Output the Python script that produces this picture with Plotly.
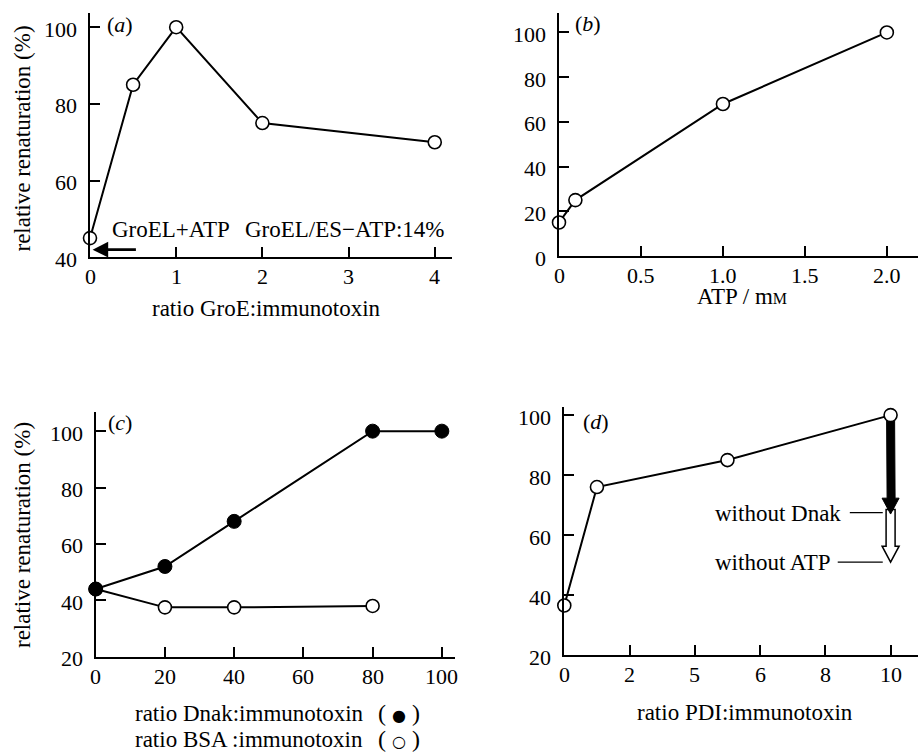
import plotly.graph_objects as go

# ---------------- data ----------------
# (a) GroE
a_x = [0, 0.5, 1, 2, 4]
a_y = [45, 85, 100, 75, 70]
a_arrow_y = 42
# (b) ATP
b_x = [0, 0.1, 1.0, 2.0]
b_y = [15, 25, 68, 100]
# (c) Dnak (filled) and BSA (open)
c_dnak_x = [0, 20, 40, 80, 100]
c_dnak_y = [44, 52, 68, 100, 100]
c_bsa_x = [0, 20, 40, 80]
c_bsa_y = [44, 37.5, 37.5, 38]
# (d) PDI
d_x = [0, 1, 5, 10]
d_y = [36.5, 76, 85, 100]
d_arrow_x = 10
d_without_dnak = 67
d_without_atp = 51

a_ticks = [0, 1, 2, 3, 4]
a_ticktext = ["0", "1", "2", "3", "4"]
a_yticks = [40, 60, 80, 100]
b_ticks = [0, 0.5, 1.0, 1.5, 2.0]
b_ticktext = ["0", "0.5", "1.0", "1.5", "2.0"]
b_yticks = [0, 20, 40, 60, 80, 100]
c_ticks = [0, 20, 40, 60, 80, 100]
c_ticktext = ["0", "20", "40", "60", "80", "100"]
c_yticks = [20, 40, 60, 80, 100]
d_ticks = [0, 2, 4, 6, 8, 10]
d_ticktext = ["0", "2", "5", "6", "8", "10"]
d_yticks = [20, 40, 60, 80, 100]

W, H = 919, 753
FONT = "Liberation Serif"


def px(v):
    return v / W


def py(v):
    return 1 - v / H


def axis(dom, rng, tickvals, anchor=None):
    return dict(domain=dom, range=rng, showline=True, linecolor="black", linewidth=2,
                ticks="inside", ticklen=10, tickwidth=1.5, tickcolor="black",
                showgrid=False, zeroline=False, tickvals=tickvals, automargin=False,
                showticklabels=False, anchor=anchor, fixedrange=True)


open_marker = dict(symbol="circle", size=13, color="white", line=dict(color="black", width=1.6))
filled_marker = dict(symbol="circle", size=14, color="black", line=dict(color="black", width=1))
line_style = dict(color="black", width=2)

fig = go.Figure()
fig.add_trace(go.Scatter(x=a_x, y=a_y, mode="lines+markers", marker=open_marker, line=line_style,
                         xaxis="x", yaxis="y", cliponaxis=False, showlegend=False))
fig.add_trace(go.Scatter(x=b_x, y=b_y, mode="lines+markers", marker=open_marker, line=line_style,
                         xaxis="x2", yaxis="y2", cliponaxis=False, showlegend=False))
fig.add_trace(go.Scatter(x=c_bsa_x, y=c_bsa_y, mode="lines+markers", marker=open_marker, line=line_style,
                         xaxis="x3", yaxis="y3", cliponaxis=False, showlegend=False))
fig.add_trace(go.Scatter(x=c_dnak_x, y=c_dnak_y, mode="lines+markers", marker=filled_marker, line=line_style,
                         xaxis="x3", yaxis="y3", cliponaxis=False, showlegend=False))
fig.add_trace(go.Scatter(x=d_x, y=d_y, mode="lines+markers", marker=open_marker, line=line_style,
                         xaxis="x4", yaxis="y4", cliponaxis=False, showlegend=False))

panels = [
    # (xref, yref, x-domain px, y-domain px (top, bottom), xrange, yrange, xticks, xtext, yticks)
    ("x", "y", (90, 452), (13, 257.3), [0, 4.2], [40, 103.7], a_ticks, a_ticktext, a_yticks),
    ("x2", "y2", (559, 918), (13, 256), [0, 2.19], [0, 108.7], b_ticks, b_ticktext, b_yticks),
    ("x3", "y3", (95.7, 455), (411.7, 656.7), [0, 103.8], [20, 106.9], c_ticks, c_ticktext, c_yticks),
    ("x4", "y4", (564.3, 918), (407.3, 655), [0, 10.84], [20, 102.6], d_ticks, d_ticktext, d_yticks),
]

layout = dict(
    width=W, height=H, margin=dict(l=0, r=0, t=0, b=0, autoexpand=False),
    paper_bgcolor="white", plot_bgcolor="white", showlegend=False, template="none",
    font=dict(family=FONT, color="black"),
)
ann = []
TICK_SIZE = 22
for xr, yr, (x0, x1), (ytop, ybot), xrng, yrng, xt, xtt, yt in panels:
    xname = "xaxis" if xr == "x" else "xaxis" + xr[1:]
    yname = "yaxis" if yr == "y" else "yaxis" + yr[1:]
    layout[xname] = axis([px(x0), px(x1)], xrng, xt, anchor=yr)
    layout[yname] = axis([py(ybot), py(ytop)], yrng, yt, anchor=xr)
    for v, t in zip(xt, xtt):
        ann.append(dict(x=v, y=py(ybot), xref=xr, yref="paper", text=t, showarrow=False,
                        xanchor="center", yanchor="middle", yshift=-19.5,
                        font=dict(family=FONT, size=TICK_SIZE, color="black")))
    for v in yt:
        ann.append(dict(x=px(x0), y=v, xref="paper", yref=yr, text=str(v), showarrow=False,
                        xanchor="right", yanchor="middle", xshift=-11, yshift=-2,
                        font=dict(family=FONT, size=TICK_SIZE, color="black")))
fig.update_layout(**layout)


def text(x, y, s, size=23, xanchor="center", **kw):
    ann.append(dict(x=px(x), y=py(y), xref="paper", yref="paper", text=s, showarrow=False,
                    xanchor=xanchor, yanchor="middle",
                    font=dict(family=FONT, size=size, color="black"), **kw))


# panel labels
text(120, 25, "(<i>a</i>)", 22)
text(587.5, 23.5, "(<i>b</i>)", 22)
text(119.5, 422.5, "(<i>c</i>)", 22)
text(595.5, 421.5, "(<i>d</i>)", 22)

# axis titles
text(22, 138.5, "relative renaturation (%)", 23, textangle=-90)
text(22, 535, "relative renaturation (%)", 23, textangle=-90)
text(266.5, 308, "ratio GroE:immunotoxin", 23)
text(741.5, 296, "ATP / m<span style='font-size:16px'>M</span>", 23)
text(745, 712, "ratio PDI:immunotoxin", 23)
text(249, 713, "ratio Dnak:immunotoxin", 23)
text(249, 739, "ratio BSA :immunotoxin", 23)
text(398.5, 713, "( <span style='font-family:DejaVu Sans;font-size:16px'>●</span> )", 24)
text(398.5, 739, "( <span style='font-family:DejaVu Sans;font-size:16px'>○</span> )", 24)

# panel (a) texts
text(171, 229.5, "GroEL+ATP", 23)
text(345, 229.5, "GroEL/ES−ATP:14%", 23)

# panel (d) texts
text(713, 513, "without Dnak", 23, xanchor="left")
text(713, 562, "without ATP", 23, xanchor="left")

# arrow in (a)
ann.append(dict(x=0.03, y=a_arrow_y, ax=0.55, ay=a_arrow_y, xref="x", yref="y", axref="x", ayref="y",
                showarrow=True, arrowhead=2, arrowsize=1.2, arrowwidth=2.6, arrowcolor="black", text=""))
fig.update_layout(annotations=ann)

# arrows in (d)
head_len = 5.3
shapes = []
hollow = (f"M -4.5,{d_without_dnak + 1.5} L 4.5,{d_without_dnak + 1.5} L 4.5,{d_without_atp + head_len} "
          f"L 8.5,{d_without_atp + head_len} L 0,{d_without_atp} L -8.5,{d_without_atp + head_len} "
          f"L -4.5,{d_without_atp + head_len} Z")
shapes.append(dict(type="path", xref="x4", yref="y4", xsizemode="pixel", xanchor=d_arrow_x,
                   path=hollow, fillcolor="white", line=dict(color="black", width=1.5), layer="below"))
filled = (f"M -4,{d_y[-1]} L 4,{d_y[-1]} L 4.5,{d_without_dnak + head_len} L 8.5,{d_without_dnak + head_len} "
          f"L 0,{d_without_dnak} L -8.5,{d_without_dnak + head_len} L -3.5,{d_without_dnak + head_len} Z")
shapes.append(dict(type="path", xref="x4", yref="y4", xsizemode="pixel", xanchor=d_arrow_x,
                   path=filled, fillcolor="black", line=dict(color="black", width=1), layer="below"))
shapes.append(dict(type="line", xref="x4", yref="y4", x0=8.75, x1=9.76, y0=d_without_dnak + 0.5,
                   y1=d_without_dnak + 0.5, line=dict(color="black", width=1.3)))
shapes.append(dict(type="line", xref="x4", yref="y4", x0=8.38, x1=9.76, y0=d_without_atp,
                   y1=d_without_atp, line=dict(color="black", width=1.3)))
fig.update_layout(shapes=shapes)

fig.write_html("out.html", config={"displayModeBar": False},
               post_script="document.body.style.margin='0';document.body.style.overflow='hidden';")
